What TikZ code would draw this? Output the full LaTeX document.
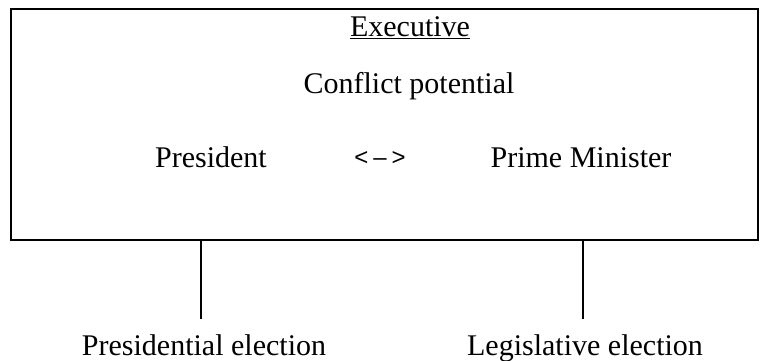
\documentclass[tikz,border=0pt]{standalone}
\usepackage{fontspec}
\setmainfont{Liberation Serif}
\setsansfont{Liberation Sans}
\begin{document}
\begin{tikzpicture}[x=1pt,y=-1pt,
  lbl/.style={inner sep=0pt,anchor=base,font=\fontsize{30}{36}\selectfont},
  frame/.style={draw,line width=1.6pt},
  conn/.style={draw,line width=1.1pt}]
\useasboundingbox (0,0) rectangle (763,361);
\node[frame,minimum width=747pt,minimum height=231pt,inner sep=0pt,anchor=north west] (exec) at (10,8) {};
\node[lbl] (title) at (410,37) {\underline{Executive}};
\node[lbl] (conf) at (409,93) {Conflict potential};
\node[lbl] (pres) at (211,167) {President};
\node[lbl] (arr) at (380,165) {\sffamily\fontsize{24}{28}\selectfont<\hspace{5pt}–\hspace{5pt}>};
\node[lbl] (pm) at (581,167) {Prime Minister};
\node[lbl] (pe) at (204,355) {Presidential election};
\node[lbl] (le) at (585,355) {Legislative election};
\coordinate (a1) at (201,239);
\coordinate (a2) at (201,319);
\coordinate (b1) at (583,239);
\coordinate (b2) at (583,319);
\draw[conn] (a1) -- (a2);
\draw[conn] (b1) -- (b2);
\end{tikzpicture}
\end{document}
